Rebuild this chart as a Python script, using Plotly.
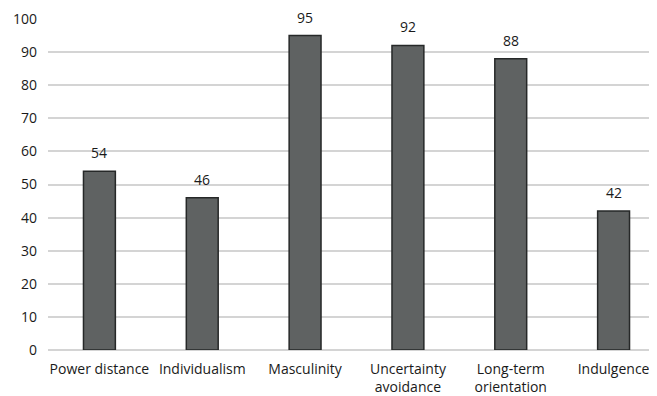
import plotly.graph_objects as go

categories = ["Power distance", "Individualism", "Masculinity",
              "Uncertainty<br>avoidance", "Long-term<br>orientation", "Indulgence"]
values = [54, 46, 95, 92, 88, 42]
y_ticks = [0, 10, 20, 30, 40, 50, 60, 70, 80, 90, 100]

FONT = "Open Sans"
xs = list(range(len(categories)))

fig = go.Figure(go.Bar(
    x=xs,
    y=values,
    width=0.31,
    marker=dict(color="#5f6262", line=dict(color="#262828", width=1.5)),
))

for x, v in zip(xs, values):
    fig.add_annotation(
        x=x, y=v, xref="x", yref="y",
        text=str(v), showarrow=False,
        yanchor="bottom", yshift=7,
        font=dict(family=FONT, size=14, color="#1a1a1a"),
    )

fig.update_layout(
    width=657, height=396,
    margin=dict(l=40, r=0, t=11, b=54, autoexpand=False),
    paper_bgcolor="white", plot_bgcolor="white",
    showlegend=False,
    font=dict(family=FONT, size=14, color="#1a1a1a"),
    xaxis=dict(
        range=[-0.5, 5.5],
        automargin=False,
        tickmode="array",
        tickvals=xs,
        ticktext=categories,
        showgrid=False, zeroline=False, showline=False,
        ticks="", ticklabelstandoff=9,
        tickfont=dict(family=FONT, size=14, color="#1a1a1a"),
    ),
    yaxis=dict(
        range=[0, 100],
        automargin=False,
        tickmode="array",
        tickvals=y_ticks,
        showgrid=True, gridcolor="#d4d4d4", gridwidth=1.5,
        zeroline=True, zerolinecolor="#d4d4d4", zerolinewidth=1.5,
        showline=False, ticks="", ticklabelstandoff=10,
        tickfont=dict(family=FONT, size=14, color="#1a1a1a"),
    ),
)

fig.write_html("out.html")
